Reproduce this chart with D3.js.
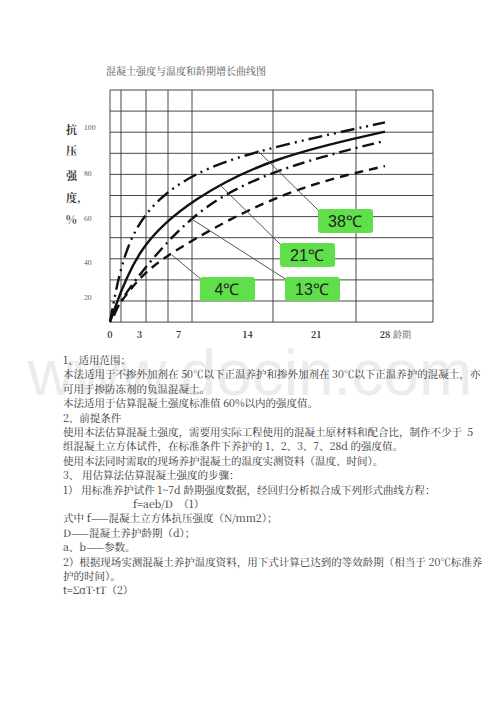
<!DOCTYPE html>
<html><head><meta charset="utf-8">
<script src="https://cdn.jsdelivr.net/npm/d3@7"></script>
<style>body{margin:0;background:#fff}</style>
</head><body>
<svg id="chart" width="500" height="708"></svg>
<script>
// curve data: [day, strength %]
const curve38 = [[0,0],[1.3,44],[3.8,65],[8.4,80],[15,90],[28,102]];
const curve21 = [[0,0],[2.7,47],[8.5,69],[16.6,87],[28,98]];
const curve13 = [[0.4,5],[1.2,20],[5.8,50],[10.9,70],[18.6,84],[28,94]];
const curve4 = [[0.3,7],[3,32],[6.4,45],[14,64],[21,76],[28,83]];
const xTicks = [0,3,7,14,21,28];
const yTicks = [20,40,60,80,100];
const labels = ['38℃','21℃','13℃','4℃'];
const textLines = [
  '1、适用范围：',
  '本法适用于不掺外加剂在 50℃以下正温养护和掺外加剂在 30℃以下正温养护的混凝土，亦',
  '可用于掺防冻剂的负温混凝土。',
  '本法适用于估算混凝土强度标准值 60%以内的强度值。',
  '2、前提条件',
  '使用本法估算混凝土强度，需要用实际工程使用的混凝土原材料和配合比，制作不少于  5',
  '组混凝土立方体试件，在标准条件下养护的 1、2、3、7、28d 的强度值。',
  '使用本法同时需取的现场养护混凝土的温度实测资料（温度、时间）。',
  '3、 用估算法估算混凝土强度的步骤：',
  '1） 用标准养护试件 1~7d 龄期强度数据，经回归分析拟合成下列形式曲线方程：',
  '                          f=aeb/D  （1）',
  '式中 f——混凝土立方体抗压强度（N/mm2）；',
  'D——混凝土养护龄期（d）；',
  'a、b——参数。',
  '2）根据现场实测混凝土养护温度资料，用下式计算已达到的等效龄期（相当于 20℃标准养',
  '护的时间）。',
  't=ΣαT·tT（2）'
];

const svg = d3.select('#chart');
const serif = '"Noto Serif CJK SC","Noto Sans CJK SC",serif';
const x = d3.scaleLinear().domain([0,28]).range([110,385]);
const y = d3.scaleLinear().domain([0,20,40,60,80,100]).range([322,297,262,218,173,127]);

// watermark (behind)
svg.append('text').attr('x',250).attr('y',395).attr('text-anchor','middle')
  .attr('font-size',64).attr('font-family','Arial,sans-serif').attr('fill','#ececec').text('www.docin.com');

// title
svg.append('text').attr('x',106).attr('y',75).attr('font-size',10).attr('fill','#555')
  .attr('font-family',serif).text('混凝土强度与温度和龄期增长曲线图');

// grid
const gx = [110,121,146,168,192,273,356,433];
const gy = d3.range(12).map(i => 90 + i*21.1);
svg.selectAll('.vg').data(gx).join('line').attr('x1',d=>d).attr('x2',d=>d)
  .attr('y1',90).attr('y2',322).attr('stroke','#333').attr('stroke-width',0.9);
svg.selectAll('.hg').data(gy).join('line').attr('y1',d=>d).attr('y2',d=>d)
  .attr('x1',110).attr('x2',433).attr('stroke','#333').attr('stroke-width',0.9);

// axis labels
svg.selectAll('.xt').data(xTicks).join('text').attr('x',d=>x(d)).attr('y',338)
  .attr('text-anchor','middle').attr('font-size',9).attr('font-weight','bold')
  .attr('font-family',serif).attr('fill','#333').text(d=>d);
svg.append('text').attr('x',x(28)+8).attr('y',338).attr('font-size',9).attr('fill','#555')
  .attr('font-family',serif).text('龄期');
svg.selectAll('.yt').data(yTicks).join('text').attr('x',84).attr('y',d=>y(d)+3)
  .attr('font-size',7).attr('fill','#444').attr('font-family',serif).text(d=>d);
['抗','压','强','度,','%'].forEach((c,i)=>{
  svg.append('text').attr('x',66).attr('y',[134,155,180,202,224][i]).attr('font-size',11)
    .attr('font-weight','bold').attr('font-family',serif).attr('fill','#333').text(c);
});

// curves
const line = d3.line().x(d=>x(d[0])).y(d=>y(d[1])).curve(d3.curveBasis);
const curves = [
  {d:curve38, dash:'14,5,2,5,2,5'},
  {d:curve21, dash:null},
  {d:curve13, dash:'12,5,2,5'},
  {d:curve4, dash:'9,6'}
];
svg.selectAll('.curve').data(curves).join('path').attr('d',c=>line(c.d))
  .attr('fill','none').attr('stroke','#111').attr('stroke-width',2.4)
  .attr('stroke-dasharray',c=>c.dash);

// callouts
const boxes = [
  {t:labels[0], bx:318, by:209, ax:257, ay:150},
  {t:labels[1], bx:280, by:243, ax:220, ay:185},
  {t:labels[2], bx:285, by:277, ax:190, ay:218},
  {t:labels[3], bx:200, by:277, ax:172, ay:255}
];
boxes.forEach(b=>{
  svg.append('line').attr('x1',b.bx+2).attr('y1',b.by+3).attr('x2',b.ax).attr('y2',b.ay)
    .attr('stroke','#555').attr('stroke-width',1);
  svg.append('rect').attr('x',b.bx).attr('y',b.by).attr('width',55).attr('height',24)
    .attr('rx',3).attr('fill','#5fe04a');
  svg.append('text').attr('x',b.bx+27).attr('y',b.by+18).attr('text-anchor','middle')
    .attr('font-size',16).attr('font-family','Arial,sans-serif').attr('fill','#222').text(b.t);
});

// body text
svg.selectAll('.tl').data(textLines).join('text').attr('x',63).attr('y',(d,i)=>364+i*14.4)
  .attr('font-size',10.5).attr('font-family',serif).attr('fill','#333')
  .attr('xml:space','preserve').style('white-space','pre').text(d=>d);
</script>
</body></html>
